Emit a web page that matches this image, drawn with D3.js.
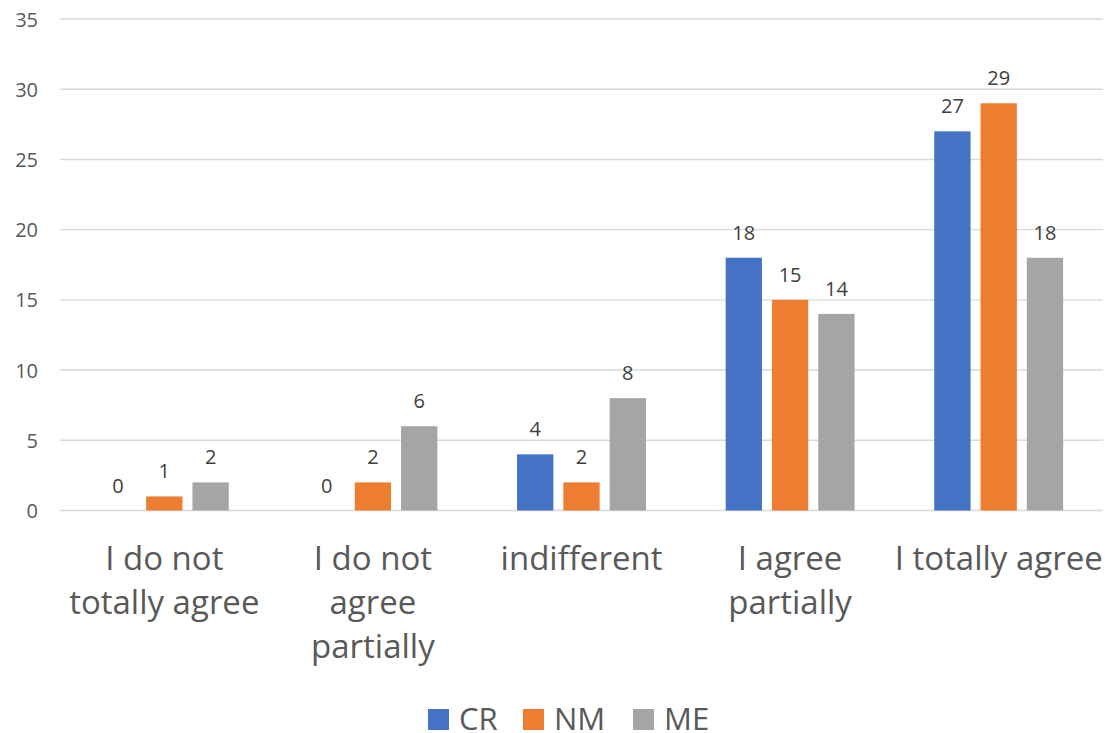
<!DOCTYPE html>
<html>
<head>
<meta charset="utf-8">
<script src="https://cdn.jsdelivr.net/npm/d3@7"></script>
<style>
  html, body { margin: 0; padding: 0; background: #ffffff; }
  svg { display: block; font-family: "Open Sans", Lato, sans-serif; }
</style>
</head>
<body>
<svg id="chart" width="1110" height="733"></svg>
<script>
// Survey responses per group
const categories = [
  "I do not\ntotally agree",
  "I do not\nagree\npartially",
  "indifferent",
  "I agree\npartially",
  "I totally agree"
];
const seriesNames = ["CR", "NM", "ME"];
const crValues = [0, 0, 4, 18, 27];
const nmValues = [1, 2, 2, 15, 29];
const meValues = [2, 6, 8, 14, 18];
const yTicks = [0, 5, 10, 15, 20, 25, 30, 35];

const seriesValues = [crValues, nmValues, meValues];
const colors = ["#4472C4", "#ED7D31", "#A5A5A5"];
const fontFamily = "'Open Sans', Lato, sans-serif";

const svg = d3.select("#chart");
const plotLeft = 60, plotRight = 1103, plotTop = 19, plotBottom = 510.5;

const y = d3.scaleLinear().domain([0, 35]).range([plotBottom, plotTop]);
const x0 = d3.scaleBand().domain(categories).range([plotLeft, plotRight]).paddingInner(0).paddingOuter(0);

// inner band for the three series within each category
const barW = 36.3, barGap = 10;
const groupW = 3 * barW + 2 * barGap;
const x1 = d3.scaleBand().domain(seriesNames)
  .range([(x0.bandwidth() - groupW) / 2, (x0.bandwidth() + groupW) / 2])
  .paddingInner(barGap / (barW + barGap)).paddingOuter(0);

// gridlines
svg.append("g").selectAll("line").data(yTicks).join("line")
  .attr("x1", plotLeft).attr("x2", plotRight)
  .attr("y1", d => y(d)).attr("y2", d => y(d))
  .attr("stroke", "#D9D9D9").attr("stroke-width", 1.4);

// y tick labels
const yAxis = d3.axisLeft(y).tickValues(yTicks).tickSize(0).tickPadding(0);
const yg = svg.append("g").attr("transform", "translate(38,0)").call(yAxis);
yg.select(".domain").remove();
yg.selectAll("text")
  .attr("font-family", fontFamily)
  .attr("font-size", 20).attr("fill", "#595959").attr("dy", "0.35em");

// bars
const rows = [];
categories.forEach((c, i) => {
  seriesNames.forEach((s, j) => rows.push({ cat: c, series: s, value: seriesValues[j][i], color: colors[j] }));
});

svg.append("g").selectAll("rect").data(rows).join("rect")
  .attr("x", d => x0(d.cat) + x1(d.series))
  .attr("width", x1.bandwidth())
  .attr("y", d => y(d.value))
  .attr("height", d => y(0) - y(d.value))
  .attr("fill", d => d.color);

// value labels
svg.append("g").selectAll("text").data(rows).join("text")
  .attr("x", d => x0(d.cat) + x1(d.series) + x1.bandwidth() / 2)
  .attr("y", d => y(d.value) - 18)
  .attr("text-anchor", "middle")
  .attr("font-size", 20).attr("fill", "#404040")
  .text(d => d.value);

// category labels
const catG = svg.append("g");
categories.forEach(c => {
  const t = catG.append("text")
    .attr("x", x0(c) + x0.bandwidth() / 2)
    .attr("y", 569.5)
    .attr("text-anchor", "middle")
    .attr("font-size", 33).attr("fill", "#595959");
  c.split("\n").forEach((line, k) => {
    t.append("tspan").attr("x", x0(c) + x0.bandwidth() / 2)
      .attr("y", 569.5 + k * 44).text(line);
  });
});

// legend
const legendX = [428, 523, 633];
const lg = svg.append("g");
seriesNames.forEach((s, j) => {
  lg.append("rect").attr("x", legendX[j]).attr("y", 709).attr("width", 21).attr("height", 21).attr("fill", colors[j]);
  lg.append("text").attr("x", legendX[j] + 31).attr("y", 730)
    .attr("font-size", 31).attr("fill", "#595959").text(s);
});
</script>
</body>
</html>
